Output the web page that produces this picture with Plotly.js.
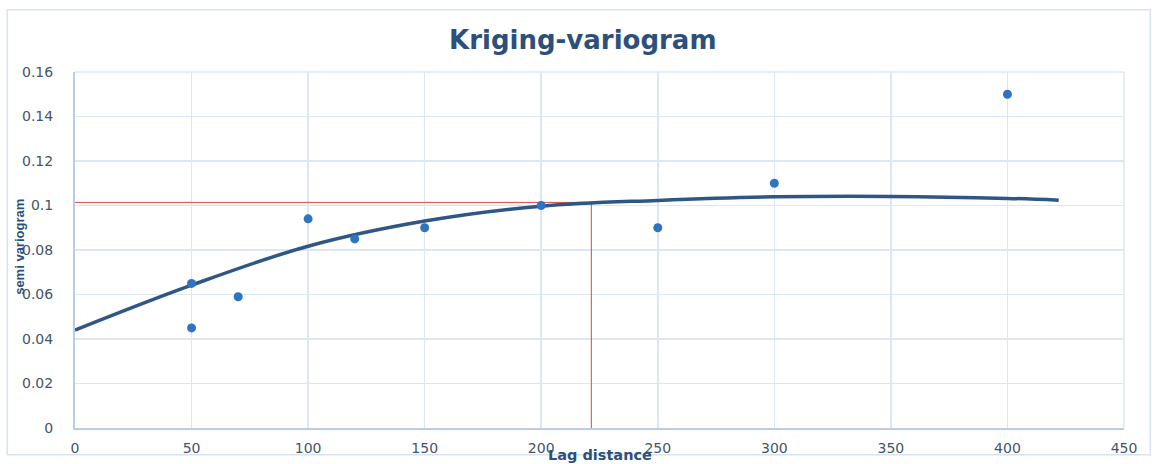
<!DOCTYPE html>
<html><head><meta charset="utf-8">
<script src="https://cdn.plot.ly/plotly-3.0.1.min.js"></script>
<style>html,body{margin:0;padding:0;background:#fff;}#chart{width:1154px;height:464px;}</style>
</head><body><div id="chart"></div>
<script>
const lagX = [50, 50, 70, 100, 120, 150, 200, 250, 300, 400];
const semiY = [0.065, 0.045, 0.059, 0.094, 0.085, 0.090, 0.100, 0.090, 0.110, 0.150];
const fitX = [0, 50, 100, 150, 200, 250, 300, 350, 400, 422];
const fitY = [0.044, 0.0642, 0.0817, 0.0930, 0.0997, 0.1023, 0.1039, 0.1041, 0.1032, 0.1024];
const rangeX = [0, 221.5, 221.5];
const rangeY = [0.1014, 0.1014, 0];
const xTicks = [0, 50, 100, 150, 200, 250, 300, 350, 400, 450];
const yTicks = [0, 0.02, 0.04, 0.06, 0.08, 0.1, 0.12, 0.14, 0.16];
const yTickText = ['0', '0.02', '0.04', '0.06', '0.08', '0.1', '0.12', '0.14', '0.16'];

const font = '"DejaVu Sans", "Open Sans", sans-serif';
const traces = [
  {x: rangeX, y: rangeY, mode: 'lines', line: {color: '#e0453c', width: 1}, hoverinfo: 'skip'},
  {x: fitX, y: fitY, mode: 'lines', line: {color: '#2f5786', width: 3.5, shape: 'spline', smoothing: 1}},
  {x: lagX, y: semiY, mode: 'markers', marker: {color: '#2e74c0', size: 9}}
];
const layout = {
  width: 1154, height: 464,
  margin: {l: 75, r: 30, t: 72, b: 36},
  paper_bgcolor: '#ffffff', plot_bgcolor: '#ffffff',
  showlegend: false,
  font: {family: font, color: '#44546a', size: 14},
  title: {text: '<b>Kriging-variogram</b>', x: 0.505, xanchor: 'center', y: 0.913, yanchor: 'middle',
    font: {family: font, size: 26, color: '#2d4f7c'}},
  xaxis: {range: [0, 450], tickvals: xTicks, ticktext: xTicks.map(String),
    showgrid: true, gridcolor: '#dce7f6', gridwidth: 1.5, zeroline: false,
    showline: true, linecolor: '#b9cde9', linewidth: 2, mirror: false,
    ticks: 'outside', ticklen: 6, tickcolor: 'rgba(0,0,0,0)',
    tickfont: {family: font, size: 14, color: '#44546a'}},
  yaxis: {range: [0, 0.16], tickvals: yTicks, ticktext: yTickText,
    showgrid: true, gridcolor: '#dce7f6', gridwidth: 1.5, zeroline: false,
    showline: true, linecolor: '#b9cde9', linewidth: 2,
    ticks: 'outside', ticklen: 17, tickcolor: 'rgba(0,0,0,0)',
    tickfont: {family: font, size: 14, color: '#44546a'}},
  shapes: [
    {type: 'rect', xref: 'paper', yref: 'paper', x0: -0.0645, x1: 1.025, y0: -0.075, y1: 1.175,
     line: {color: '#d6e3f4', width: 1.5}, fillcolor: 'rgba(0,0,0,0)', layer: 'below'},
    {type: 'line', xref: 'paper', yref: 'paper', x0: 1, x1: 1, y0: 0, y1: 1, line: {color: '#dce7f6', width: 1.5}},
    {type: 'line', xref: 'paper', yref: 'paper', x0: 0, x1: 1, y0: 1, y1: 1, line: {color: '#dce7f6', width: 1.5}}
  ],
  annotations: [
    {text: '<b>Lag distance</b>', xref: 'paper', yref: 'paper', x: 0.5, y: -0.075, xanchor: 'center', yanchor: 'middle',
     showarrow: false, font: {family: font, size: 14.5, color: '#2d4f7c'}},
    {text: '<b>semi variogram</b>', xref: 'paper', yref: 'paper', x: -0.053, y: 0.51, xanchor: 'center', yanchor: 'middle',
     textangle: -90, showarrow: false, font: {family: '"Liberation Sans Narrow", "Liberation Sans", sans-serif', size: 13, color: '#2d4f7c'}}
  ]
};
Plotly.newPlot('chart', traces, layout, {displayModeBar: false, staticPlot: true});
</script></body></html>
